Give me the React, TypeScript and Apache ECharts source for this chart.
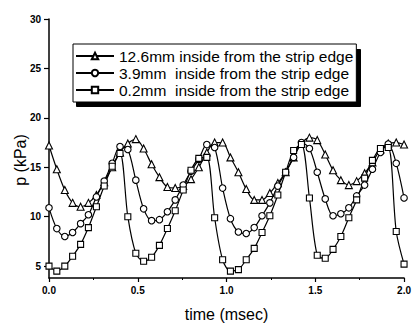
import React, { useEffect, useRef } from "react";
import * as echarts from "echarts";

const times = [
  0.0, 0.044, 0.089, 0.133, 0.178, 0.222, 0.267, 0.311, 0.356, 0.4, 0.444, 0.489,
  0.533, 0.578, 0.622, 0.667, 0.711, 0.756, 0.8, 0.844, 0.889, 0.933, 0.978,
  1.022, 1.067, 1.111, 1.156, 1.2, 1.244, 1.289, 1.333, 1.378, 1.422, 1.467,
  1.511, 1.556, 1.6, 1.644, 1.689, 1.733, 1.778, 1.822, 1.867, 1.911, 1.956, 2.0,
];

const seriesNames = [
  "12.6mm inside from the strip edge",
  "3.9mm\u00a0\u00a0inside from the strip edge",
  "0.2mm\u00a0\u00a0inside from the strip edge",
];

const p126 = [
  17.2, 14.8, 12.7, 11.4, 11.0, 11.4, 12.2, 13.5, 15.0, 16.5, 17.4, 17.85,
  16.9, 15.3, 14.0, 13.0, 12.9, 13.1, 13.8, 15.0, 16.5, 17.5, 17.5,
  16.0, 14.5, 12.8, 11.7, 11.7, 12.4, 13.4, 14.5, 16.0, 17.4, 18.0,
  17.75, 16.3, 14.7, 13.7, 13.2, 13.6, 14.4, 15.5, 16.8, 17.4, 17.5, 17.3,
];

const p39 = [
  10.9, 8.8, 8.0, 8.4, 9.3, 10.2, 12.0, 13.6, 15.4, 17.1, 16.8, 13.7,
  10.8, 9.6, 9.7, 10.5, 11.7, 13.2, 14.6, 15.8, 17.3, 17.0, 12.9,
  9.8, 8.45, 8.3, 8.9, 10.1, 11.4, 13.1, 14.5, 16.0, 17.5, 16.9,
  14.5, 11.8, 10.1, 10.3, 10.9, 12.1, 13.2, 14.8, 16.5, 17.35, 15.4, 11.9,
];

const p02 = [
  5.0, 4.5, 5.0, 6.0, 7.2, 8.9, 11.0, 13.1, 15.1, 16.4, 10.0, 6.3,
  5.5, 5.9, 7.1, 8.8, 10.6, 12.7, 14.7, 15.9, 16.0, 9.9, 5.65,
  4.5, 4.65, 5.65, 6.8, 8.4, 10.1, 12.2, 14.5, 16.7, 17.3, 11.9,
  6.1, 5.8, 6.7, 8.0, 9.9, 11.7, 13.9, 15.7, 16.9, 17.0, 8.5, 5.2,
];

const yTicks = [5, 10, 15, 20, 25, 30];
const xTicks = [0, 0.5, 1.0, 1.5, 2.0];

const FONT = '"Liberation Sans", Arial, Helvetica, sans-serif';

export default function App() {
  const ref = useRef<HTMLDivElement>(null);
  useEffect(() => {
    if (!ref.current) return;
    document.body.style.margin = "0";
    const chart = echarts.init(ref.current, undefined, { renderer: "svg" });
    const pair = (arr: number[]) => times.map((t, i) => [t, arr[i]]);
    const mk = (name: string, arr: number[], symbol: string, size: number) => ({
      name,
      type: "line",
      z: 2,
      data: pair(arr),
      smooth: 0.3,
      symbol,
      symbolSize: size,
      showAllSymbol: true,
      lineStyle: { color: "#000", width: 1.2 },
      itemStyle: { color: "#fff", borderColor: "#000", borderWidth: 1.1 },
    });
    chart.setOption({
      animation: false,
      backgroundColor: "#fff",
      textStyle: { fontFamily: FONT },
      grid: { left: 49, right: 7, top: 19, bottom: 43, containLabel: false },
      legend: {
        show: true,
        orient: "vertical",
        left: 73,
        top: 44,
        z: 10,
        padding: [4, 3, 4, 2],
        itemGap: 1,
        itemWidth: 38,
        itemHeight: 8,
        borderColor: "#000",
        borderWidth: 1,
        backgroundColor: "#fff",
        textStyle: { fontFamily: FONT, fontSize: 15.5, color: "#000", lineHeight: 16 },
        data: seriesNames,
      },
      xAxis: {
        type: "value",
        min: 0,
        max: 2,
        interval: 0.5,
        axisLine: { show: true, lineStyle: { color: "#000", width: 1.5 } },
        axisTick: { show: true, length: 4, lineStyle: { color: "#000", width: 1.2 } },
        minorTick: { show: true, splitNumber: 2, length: 2, lineStyle: { color: "#000" } },
        splitLine: { show: false },
        axisLabel: {
          color: "#000",
          fontSize: 10,
          fontWeight: "bold",
          margin: 7,
          formatter: (v: number) => (xTicks.includes(v) ? v.toFixed(1) : ""),
        },
        name: "time (msec)",
        nameLocation: "middle",
        nameGap: 28,
        nameTextStyle: { fontSize: 16, color: "#000", fontFamily: FONT },
      },
      yAxis: {
        type: "value",
        min: 3.8,
        max: 30,
        axisLine: { show: true, onZero: false, lineStyle: { color: "#000", width: 1.5 } },
        axisTick: { show: true, length: 5, customValues: yTicks, lineStyle: { color: "#000", width: 1.2 } },
        splitLine: { show: false },
        axisLabel: {
          color: "#000",
          fontSize: 10,
          fontWeight: "bold",
          margin: 8,
          customValues: yTicks,
          formatter: (v: number) => String(v),
        },
      },
      graphic: [
        {
          type: "rect",
          left: 76,
          top: 49,
          z: 8,
          shape: { width: 284, height: 57 },
          style: { fill: "#000", stroke: "#000" },
        },
        {
          type: "text",
          x: 20,
          y: 160,
          rotation: Math.PI / 2,
          style: {
            text: "p (kPa)",
            fontSize: 16,
            fontFamily: FONT,
            fill: "#000",
            textAlign: "center",
            textVerticalAlign: "middle",
          },
        },
      ],
      series: [
        mk(seriesNames[0], p126, "triangle", 7),
        mk(seriesNames[1], p39, "circle", 6.5),
        mk(seriesNames[2], p02, "rect", 6),
      ],
    });
    return () => chart.dispose();
  }, []);
  return (
    <div
      ref={ref}
      style={{ width: 414, height: 327, position: "absolute", left: 0, top: 0 }}
    />
  );
}
